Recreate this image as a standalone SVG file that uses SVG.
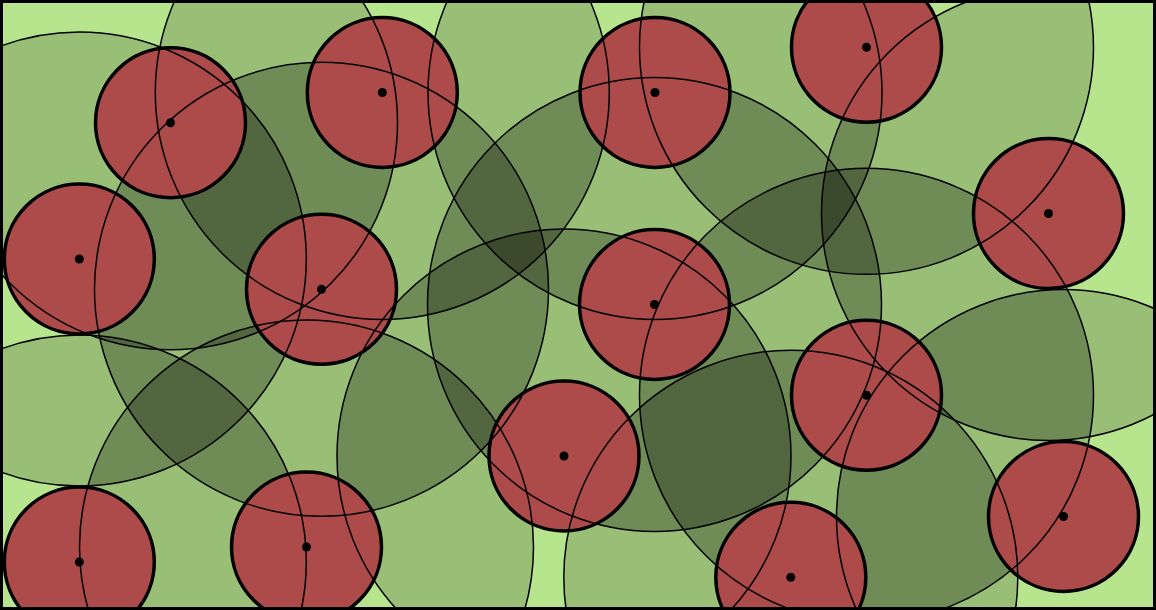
<svg xmlns="http://www.w3.org/2000/svg" width="1156" height="610" viewBox="0 0 1156 610">
<style>
.cov{fill:#000;fill-opacity:0.5;stroke:none}
.ring{fill:none;stroke:#000;stroke-width:1.5}
.node{fill:#ad4a4a;stroke:#000;stroke-width:3.5}
.dot{fill:#000;stroke:none}
</style>
<defs>
<filter id="lv" filterUnits="userSpaceOnUse" x="0" y="0" width="1156" height="610" color-interpolation-filters="sRGB">
<feComponentTransfer in="SourceGraphic">
<feFuncA type="table" tableValues="0 0 0 0 0 0 0 0 0 0 0 0 0 0 0 0 0 0.02 0.04 0.06 0.08 0.10 0.12 0.14 0.16 0.215 0.27 0.325 0.38 0.46 0.54 0.67 0.76"/>
</feComponentTransfer>
</filter>
<clipPath id="ringclip">
<path d="M0 0 H1105 V22 H1156 V610 H0 Z"/>
</clipPath>
</defs>
<rect x="0" y="0" width="1156" height="610" fill="#b7e58d"/>
<g id="coverage" filter="url(#lv)">
<circle class="cov" cx="170.5" cy="122.7" r="227"/>
<circle class="cov" cx="382.3" cy="92.5" r="227"/>
<circle class="cov" cx="655" cy="92.5" r="227"/>
<circle class="cov" cx="866.5" cy="47.3" r="227"/>
<circle class="cov" cx="79.3" cy="259" r="227"/>
<circle class="cov" cx="321.5" cy="289.3" r="227"/>
<circle class="cov" cx="1048.5" cy="213.5" r="227"/>
<circle class="cov" cx="654.5" cy="304.5" r="227"/>
<circle class="cov" cx="866.5" cy="395.3" r="227"/>
<circle class="cov" cx="564" cy="456" r="227"/>
<circle class="cov" cx="79.3" cy="562" r="227"/>
<circle class="cov" cx="306.5" cy="547" r="227"/>
<circle class="cov" cx="790.8" cy="577.3" r="227"/>
<circle class="cov" cx="1063.5" cy="516.5" r="227"/>
</g>
<g id="n1"><circle class="node" cx="170.5" cy="122.7" r="75"/></g>
<g id="n2"><circle class="node" cx="382.3" cy="92.5" r="75"/></g>
<g id="n3"><circle class="node" cx="655" cy="92.5" r="75"/></g>
<g id="n4"><circle class="node" cx="866.5" cy="47.3" r="75"/></g>
<g id="n5"><circle class="node" cx="79.3" cy="259" r="75"/></g>
<g id="n6"><circle class="node" cx="321.5" cy="289.3" r="75"/></g>
<g id="n7"><circle class="node" cx="1048.5" cy="213.5" r="75"/></g>
<g id="n8"><circle class="node" cx="654.5" cy="304.5" r="75"/></g>
<g id="n9"><circle class="node" cx="866.5" cy="395.3" r="75"/></g>
<g id="n10"><circle class="node" cx="564" cy="456" r="75"/></g>
<g id="n11"><circle class="node" cx="79.3" cy="562" r="75"/></g>
<g id="n12"><circle class="node" cx="306.5" cy="547" r="75"/></g>
<g id="n13"><circle class="node" cx="790.8" cy="577.3" r="75"/></g>
<g id="n14"><circle class="node" cx="1063.5" cy="516.5" r="75"/></g>
<g id="rings" clip-path="url(#ringclip)">
<circle class="ring" cx="170.5" cy="122.7" r="227"/>
<circle class="ring" cx="382.3" cy="92.5" r="227"/>
<circle class="ring" cx="655" cy="92.5" r="227"/>
<circle class="ring" cx="866.5" cy="47.3" r="227"/>
<circle class="ring" cx="79.3" cy="259" r="227"/>
<circle class="ring" cx="321.5" cy="289.3" r="227"/>
<circle class="ring" cx="1048.5" cy="213.5" r="227"/>
<circle class="ring" cx="654.5" cy="304.5" r="227"/>
<circle class="ring" cx="866.5" cy="395.3" r="227"/>
<circle class="ring" cx="564" cy="456" r="227"/>
<circle class="ring" cx="79.3" cy="562" r="227"/>
<circle class="ring" cx="306.5" cy="547" r="227"/>
<circle class="ring" cx="790.8" cy="577.3" r="227"/>
<circle class="ring" cx="1063.5" cy="516.5" r="227"/>
</g>
<g id="dots">
<circle class="dot" cx="170.5" cy="122.7" r="4.5"/>
<circle class="dot" cx="382.3" cy="92.5" r="4.5"/>
<circle class="dot" cx="655" cy="92.5" r="4.5"/>
<circle class="dot" cx="866.5" cy="47.3" r="4.5"/>
<circle class="dot" cx="79.3" cy="259" r="4.5"/>
<circle class="dot" cx="321.5" cy="289.3" r="4.5"/>
<circle class="dot" cx="1048.5" cy="213.5" r="4.5"/>
<circle class="dot" cx="654.5" cy="304.5" r="4.5"/>
<circle class="dot" cx="866.5" cy="395.3" r="4.5"/>
<circle class="dot" cx="564" cy="456" r="4.5"/>
<circle class="dot" cx="79.3" cy="562" r="4.5"/>
<circle class="dot" cx="306.5" cy="547" r="4.5"/>
<circle class="dot" cx="790.8" cy="577.3" r="4.5"/>
<circle class="dot" cx="1063.5" cy="516.5" r="4.5"/>
</g>
<rect x="1.5" y="1.5" width="1153" height="607" fill="none" stroke="#000" stroke-width="3"/>
</svg>
